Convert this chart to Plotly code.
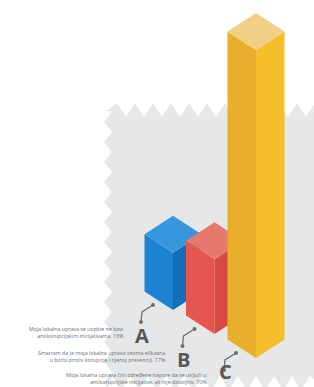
import plotly.graph_objects as go

# ---- data ----
labels = ["A", "B", "C"]
values = [13, 17, 70]
descriptions = [
    "Moja lokalna uprava se uopšte ne bavi<br>antikorupcijskim inicijativama. 13%",
    "Smatram da je moja lokalna uprava veoma efikasna<br>u borbi protiv korupcije i njenoj prevenciji. 17%",
    "Moja lokalna uprava čini određene napore da se uključi u<br>antikorupcijske inicijative, ali nije dovoljno. 70%",
]

# ---- styles ----
left_cols = ["#1D82D2", "#E5564F", "#E9AE2C"]
right_cols = ["#146DBA", "#D94A45", "#F6BE2A"]
top_cols = ["#3696DE", "#E6786E", "#F1CF86"]
BG_GRAY = "#E6E7E9"

W, H = 314, 387
X0, Y0 = 173, 310       # front-bottom vertex of first bar
STEP_X, STEP_Y = 41.5, 24
HW, HH = 28.5, 18.5     # half-width / half-height of the isometric top
K = 4.4                 # px per percent

fig = go.Figure()

# gray zig-zag backdrop
left_x, top_y, bot_y = 108, 110, 383
tooth = 18
amp = 7
path = []
x = left_x
path.append((left_x, top_y))
i = 0
while x < W + tooth:
    x += tooth / 2
    path.append((x, top_y - amp if i % 2 == 0 else top_y + amp))
    i += 1
path.append((W + 5, top_y))
path.append((W + 5, bot_y))
x = W + 5
i = 0
while x > left_x:
    x -= tooth / 2
    path.append((max(x, left_x), bot_y - amp if i % 2 == 0 else bot_y + amp))
    i += 1
y = H + 5
i = 0
path.append((left_x, H + 5))
while y > top_y:
    y -= 10
    path.append((left_x - 4 if i % 2 == 0 else left_x + 4, max(y, top_y)))
    i += 1
svg = "M " + " L ".join(f"{px:.1f},{py:.1f}" for px, py in path) + " Z"
fig.add_shape(type="path", path=svg, xref="x", yref="y",
              fillcolor=BG_GRAY, line=dict(width=0), layer="below")


def poly(xs, ys, color):
    fig.add_trace(go.Scatter(x=xs + [xs[0]], y=ys + [ys[0]], mode="lines",
                             fill="toself", fillcolor=color,
                             line=dict(width=0, color=color),
                             hoverinfo="skip", showlegend=False))


for i, (lab, v, desc) in enumerate(zip(labels, values, descriptions)):
    cx = X0 + i * STEP_X
    by = Y0 + i * STEP_Y
    hgt = v * K
    ty = by - hgt
    poly([cx, cx - HW, cx - HW, cx], [by, by - HH, ty - HH, ty], left_cols[i])
    poly([cx, cx + HW, cx + HW, cx], [by, by - HH, ty - HH, ty], right_cols[i])
    poly([cx, cx - HW, cx, cx + HW], [ty, ty - HH, ty - 2 * HH, ty - HH], top_cols[i])

    lx = [cx - 20, cx - 31, cx - 32]
    ly = [by - 5, by + 2, by + 12]
    fig.add_trace(go.Scatter(x=lx, y=ly, mode="lines",
                             line=dict(color="#6D6E71", width=1.3),
                             hoverinfo="skip", showlegend=False))
    fig.add_trace(go.Scatter(x=[lx[0], lx[2]], y=[ly[0], ly[2]], mode="markers",
                             marker=dict(color="#6D6E71", size=4),
                             hoverinfo="skip", showlegend=False))
    fig.add_annotation(x=cx - 31, y=min(by + 25, H - 16), text=f"<b>{lab}</b>", showarrow=False,
                       font=dict(family="Open Sans", size=20, color="#58595B"),
                       xanchor="center", yanchor="middle")
    fig.add_annotation(x=cx - 47, y=min(by + 22, H - 9), text=desc, showarrow=False,
                       font=dict(family="Open Sans", size=5.3, color="#6D6E71"),
                       xanchor="right", yanchor="middle", align="right")

fig.update_layout(
    width=W, height=H,
    margin=dict(l=0, r=0, t=0, b=0),
    paper_bgcolor="white", plot_bgcolor="white",
    xaxis=dict(range=[0, W], visible=False, fixedrange=True),
    yaxis=dict(range=[H, 0], visible=False, fixedrange=True),
    showlegend=False,
)

fig.write_html("out.html", config={"displayModeBar": False},
               post_script="document.body.style.margin='0';document.body.style.overflow='hidden';")
